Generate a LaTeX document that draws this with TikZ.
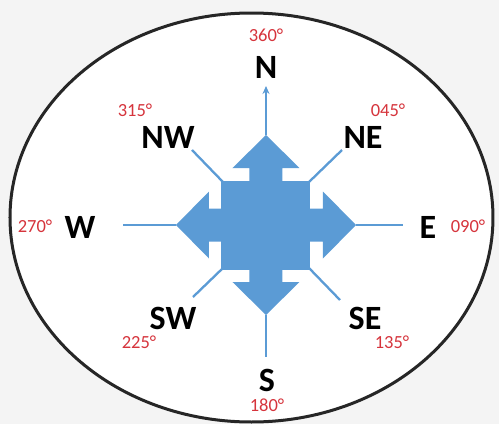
\documentclass[tikz,border=0pt]{standalone}
\usepackage{fontspec}
\setmainfont{Carlito}
\usetikzlibrary{arrows.meta}
\definecolor{roseblue}{RGB}{91,155,213}
\definecolor{degred}{RGB}{214,52,60}

\begin{document}
\begin{tikzpicture}[x=1pt, y=1pt, >=Stealth,
    point/.style={font=\fontsize{34}{34}\bfseries\selectfont, inner sep=0pt},
    bearing/.style={font=\fontsize{18.5}{18.5}\selectfont, text=degred, inner sep=0pt},
    ray/.style={roseblue, line width=2.3pt}]
    \useasboundingbox[fill=gray!9] (-266,-199) rectangle (233,225);
    \draw[line width=3pt, black!85, fill=white] (-14.5,7.5) ellipse [x radius=241.5pt, y radius=204.5pt];

    % the rose
    \fill[roseblue] (-44.5,-44.5) rectangle (44.5,44.5);
    \foreach \a in {0,90,180,270}
        \fill[roseblue, rotate=\a] (-16.5,44) -- (-16.5,57) -- (-33.5,57) -- (0,90)
            -- (33.5,57) -- (16.5,57) -- (16.5,44) -- cycle;

    \coordinate (tipN) at (0,90);
    \coordinate (tipS) at (0,-90);
    \coordinate (tipW) at (-90,0);
    \coordinate (tipE) at (90,0);
    \coordinate (cNW) at (-43,43);
    \coordinate (cNE) at (43,43);
    \coordinate (cSW) at (-43,-43);
    \coordinate (cSE) at (43,-43);

    \coordinate (endN) at (0,139);
    \coordinate (endS) at (0,-132);
    \coordinate (endW) at (-143,0);
    \coordinate (endE) at (137,0);
    \coordinate (endNW) at (-74,75);
    \coordinate (endNE) at (76,75);
    \coordinate (endSW) at (-73,-72);
    \coordinate (endSE) at (74,-75);

    \draw[ray, -{Stealth[length=8pt, width=7pt]}] (tipN) -- (endN);
    \draw[ray] (tipS) -- (endS);
    \draw[ray] (tipW) -- (endW);
    \draw[ray] (tipE) -- (endE);
    \draw[ray] (cNW) -- (endNW);
    \draw[ray] (cNE) -- (endNE);
    \draw[ray] (cSW) -- (endSW);
    \draw[ray] (cSE) -- (endSE);

    % labels
    \node[point] (N) at (0,158) {N};
    \node[point] (NE) at (97,88) {NE};
    \node[point] (E) at (162,-2) {E};
    \node[point] (SE) at (99,-93) {SE};
    \node[point] (S) at (1,-155) {S};
    \node[point] (SW) at (-93,-93) {SW};
    \node[point] (W) at (-186,-2) {W};
    \node[point] (NW) at (-98,88) {NW};

    \node[bearing] (bN) at (0,190) {360°};
    \node[bearing] (bNE) at (122,115) {045°};
    \node[bearing] (bE) at (202,-1) {090°};
    \node[bearing] (bSE) at (126,-117) {135°};
    \node[bearing] (bS) at (1,-180) {180°};
    \node[bearing] (bSW) at (-127,-117) {225°};
    \node[bearing] (bW) at (-231,-1) {270°};
    \node[bearing] (bNW) at (-131,115) {315°};
\end{tikzpicture}
\end{document}
